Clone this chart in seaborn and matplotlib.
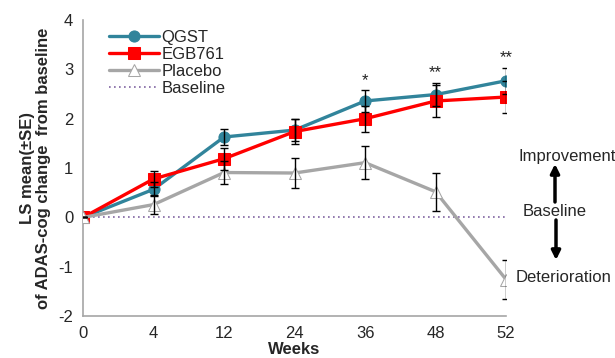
import matplotlib
matplotlib.use("Agg")
import matplotlib.pyplot as plt
import numpy as np
import pandas as pd
import seaborn as sns

# ── Data ──────────────────────────────────────────────────────────────────────
weeks = ["0", "4", "12", "24", "36", "48", "52"]

qgst_mean = [0, 0.57, 1.63, 1.77, 2.36, 2.49, 2.77]
qgst_se   = [0, 0.14, 0.16, 0.22, 0.22, 0.24, 0.26]

egb_mean = [0, 0.78, 1.19, 1.74, 2.00, 2.36, 2.44]
egb_se   = [0, 0.16, 0.22, 0.25, 0.26, 0.33, 0.33]

placebo_mean = [0, 0.26, 0.91, 0.90, 1.11, 0.52, -1.26]
placebo_se   = [0, 0.19, 0.24, 0.31, 0.34, 0.38, 0.40]

baseline = [0, 0, 0, 0, 0, 0, 0]

stars = {"36": "*", "48": "**", "52": "**"}

sns.set_theme(style="white")
plt.rcParams["font.family"] = ["Liberation Sans", "DejaVu Sans"]
plt.rcParams["axes.unicode_minus"] = False

pos = np.arange(len(weeks))
series = [
    ("QGST",    qgst_mean,    qgst_se,    dict(color="#31849B", marker="o", markersize=8,
                                               markerfacecolor="#31849B", markeredgecolor="#31849B")),
    ("EGB761",  egb_mean,     egb_se,     dict(color="#FF0000", marker="s", markersize=8,
                                               markerfacecolor="#FF0000", markeredgecolor="#FF0000")),
    ("Placebo", placebo_mean, placebo_se, dict(color="#A6A6A6", marker="^", markersize=8,
                                               markerfacecolor="white", markeredgecolor="#A6A6A6")),
]

fig = plt.figure(figsize=(6.15, 3.58), dpi=100)
ax = fig.add_axes([0.135, 0.117, 0.688, 0.827])

for label, mean, se, style in series:
    d = pd.DataFrame({"pos": pos, "mean": mean})
    sns.lineplot(data=d, x="pos", y="mean", ax=ax, label=label, linewidth=2.4,
                 zorder=3, **style)
    ax.errorbar(pos, mean, yerr=se, fmt="none", ecolor="black", elinewidth=1,
                capsize=3, capthick=1, zorder=4)

sns.lineplot(x=pos, y=baseline, ax=ax, label="Baseline", color="#8064A2",
             linestyle=(0, (1, 2)), linewidth=1.2, zorder=2)

# significance marks above the QGST error bars
for wk, s in stars.items():
    i = weeks.index(wk)
    ax.text(i, qgst_mean[i] + qgst_se[i] + 0.05, s, ha="center", va="bottom",
            fontsize=12, color="#222222")

ax.set_xlim(0, len(weeks) - 1)
ax.set_ylim(-2, 4)
ax.set_xticks(pos)
ax.set_xticklabels(weeks)
ax.set_yticks([-2, -1, 0, 1, 2, 3, 4])
ax.tick_params(axis="both", labelsize=12, length=4, width=1, color="#A6A6A6",
               direction="out", pad=3)
for side in ["top", "right"]:
    ax.spines[side].set_visible(False)
for side in ["left", "bottom"]:
    ax.spines[side].set_color("#A6A6A6")
    ax.spines[side].set_linewidth(1.2)

ax.set_xlabel("Weeks", fontsize=12, fontweight="bold", labelpad=1)
ax.set_ylabel("LS mean(\u00b1SE)\nof ADAS-cog change  from baseline",
              fontsize=12, fontweight="bold", labelpad=5, linespacing=1.15)

ax.legend(loc="upper left", bbox_to_anchor=(0.045, 0.99), frameon=False,
          fontsize=12, handlelength=3.0, handletextpad=0.15, labelspacing=0.12,
          borderaxespad=0)

# direction annotations outside the plotting area
tr = fig.transFigure
fig.text(519 / 615, (358 - 157) / 358, "Improvement", fontsize=12, va="center", ha="left")
fig.text(523 / 615, (358 - 212) / 358, "Baseline", fontsize=12, va="center", ha="left")
fig.text(516 / 615, (358 - 277) / 358, "Deterioration", fontsize=12, va="center", ha="left")
arrow = dict(arrowstyle="-|>", color="black", lw=2.5, mutation_scale=13,
             shrinkA=0, shrinkB=0)
ax.annotate("", xy=(555 / 615, (358 - 164) / 358), xytext=(555 / 615, (358 - 202) / 358),
            xycoords=tr, textcoords=tr, arrowprops=arrow)
ax.annotate("", xy=(556 / 615, (358 - 260) / 358), xytext=(556 / 615, (358 - 220) / 358),
            xycoords=tr, textcoords=tr, arrowprops=arrow)

fig.savefig("out.png", dpi=100)
